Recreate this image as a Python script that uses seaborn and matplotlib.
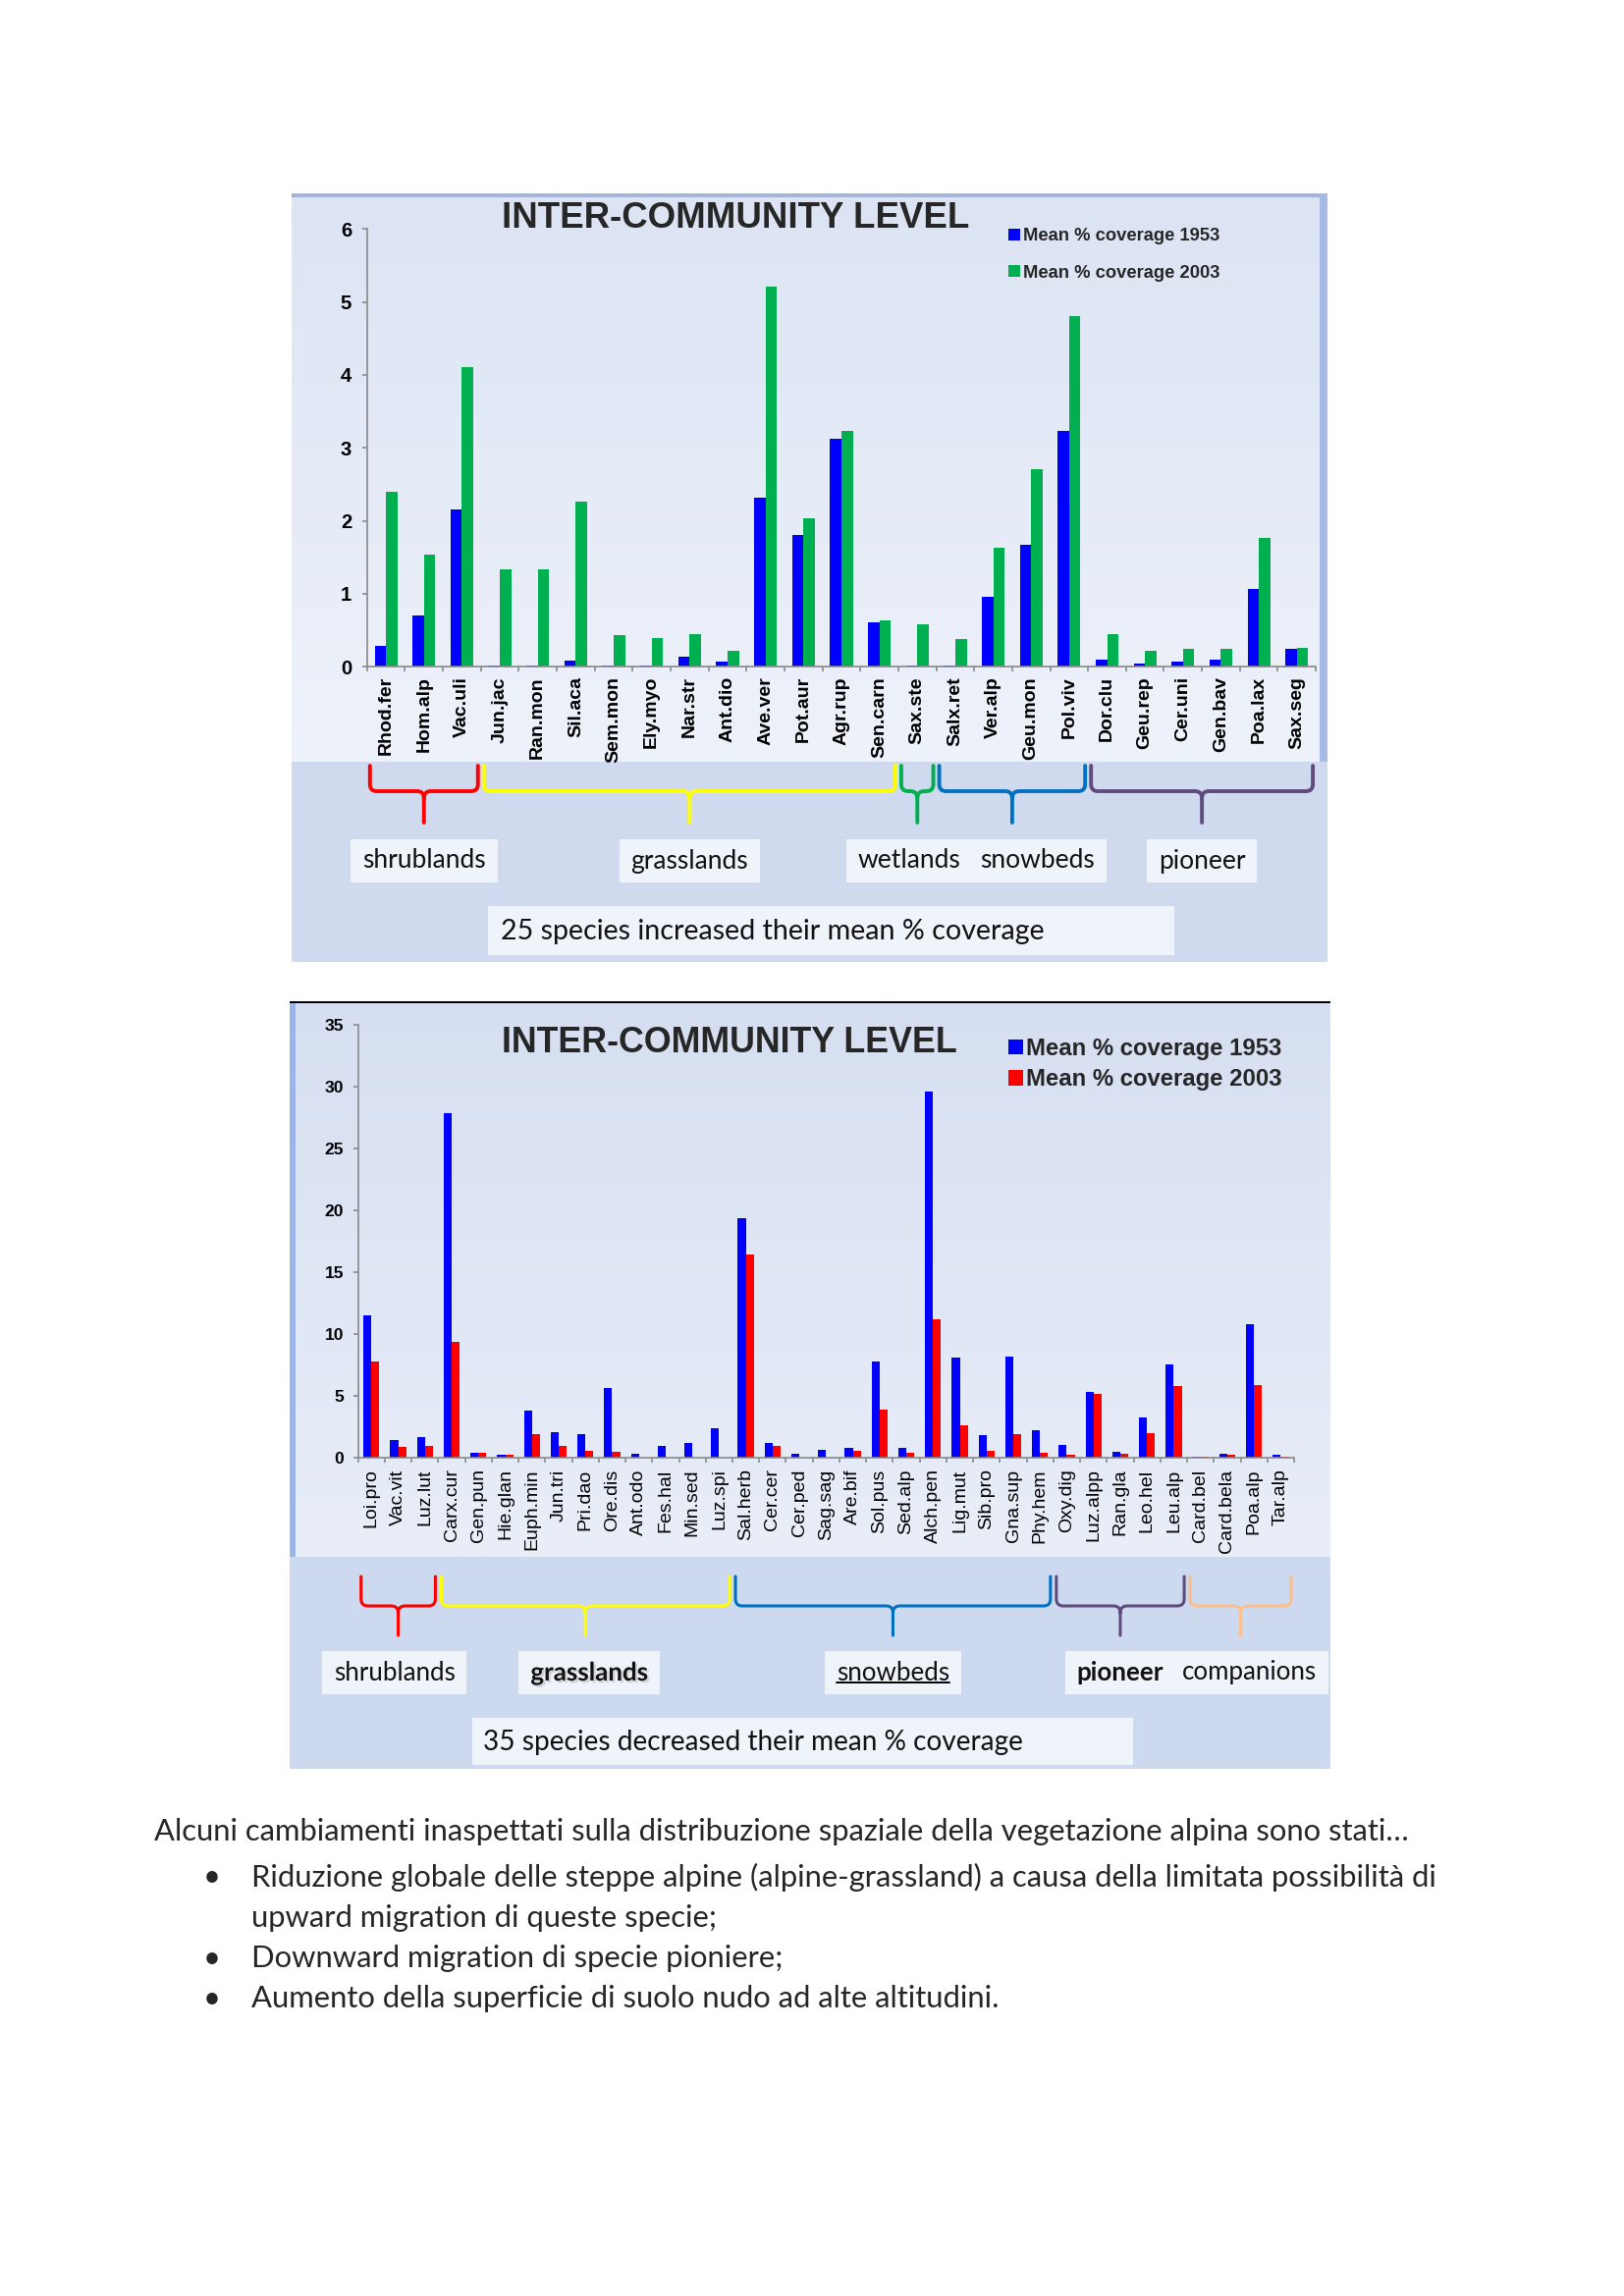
import numpy as np
import pandas as pd
import matplotlib
matplotlib.use("Agg")
import matplotlib.pyplot as plt
import matplotlib.colors as mcolors
import matplotlib.patheffects as pe
from matplotlib.patches import Rectangle, PathPatch
from matplotlib.path import Path
from matplotlib.lines import Line2D
from matplotlib.font_manager import FontProperties
import seaborn as sns

# ---------------- data: chart 1 (species that increased) ----------------
species_up = ["Rhod.fer", "Hom.alp", "Vac.uli", "Jun.jac", "Ran.mon", "Sil.aca",
              "Sem.mon", "Ely.myo", "Nar.str", "Ant.dio", "Ave.ver", "Pot.aur",
              "Agr.rup", "Sen.carn", "Sax.ste", "Salx.ret", "Ver.alp", "Geu.mon",
              "Pol.viv", "Dor.clu", "Geu.rep", "Cer.uni", "Gen.bav", "Poa.lax", "Sax.seg"]
cov1953_up = [0.28, 0.70, 2.16, 0.02, 0.02, 0.08, 0.02, 0.02, 0.13, 0.07, 2.31, 1.80,
              3.12, 0.61, 0.02, 0.02, 0.96, 1.67, 3.23, 0.09, 0.04, 0.07, 0.10, 1.07, 0.24]
cov2003_up = [2.40, 1.54, 4.10, 1.34, 1.34, 2.26, 0.43, 0.39, 0.45, 0.21, 5.21, 2.03,
              3.23, 0.63, 0.58, 0.38, 1.63, 2.70, 4.81, 0.45, 0.21, 0.24, 0.24, 1.77, 0.26]
groups_up = [("shrublands", "Rhod.fer", "Vac.uli", "#ff0000"),
             ("grasslands", "Jun.jac", "Sen.carn", "#ffff00"),
             ("wetlands", "Sax.ste", "Sax.ste", "#00b050"),
             ("snowbeds", "Salx.ret", "Pol.viv", "#0070c0"),
             ("pioneer", "Dor.clu", "Sax.seg", "#5f4b7d")]
note_up = "25 species increased their mean % coverage"

# ---------------- data: chart 2 (species that decreased) ----------------
species_down = ["Loi.pro", "Vac.vit", "Luz.lut", "Carx.cur", "Gen.pun", "Hie.glan",
                "Euph.min", "Jun.tri", "Pri.dao", "Ore.dis", "Ant.odo", "Fes.hal",
                "Min.sed", "Luz.spi", "Sal.herb", "Cer.cer", "Cer.ped", "Sag.sag",
                "Are.bif", "Sol.pus", "Sed.alp", "Alch.pen", "Lig.mut", "Sib.pro",
                "Gna.sup", "Phy.hem", "Oxy.dig", "Luz.alpp", "Ran.gla", "Leo.hel",
                "Leu.alp", "Card.bel", "Card.bela", "Poa.alp", "Tar.alp"]
cov1953_down = [11.48, 1.46, 1.70, 27.84, 0.36, 0.27, 3.79, 2.06, 1.94, 5.65, 0.30, 0.97,
                1.21, 2.40, 19.34, 1.21, 0.30, 0.61, 0.82, 7.80, 0.76, 29.60, 8.11, 1.82,
                8.20, 2.19, 1.06, 5.31, 0.46, 3.25, 7.56, 0.05, 0.33, 10.75, 0.24]
cov2003_down = [7.80, 0.91, 0.97, 9.38, 0.36, 0.21, 1.94, 0.97, 0.55, 0.46, 0.03, 0.03,
                0.03, 0.03, 16.45, 0.97, 0.03, 0.03, 0.58, 3.86, 0.39, 11.17, 2.64, 0.58,
                1.91, 0.39, 0.21, 5.19, 0.33, 1.97, 5.77, 0.05, 0.24, 5.86, 0.05]
groups_down = [("shrublands", "Loi.pro", "Luz.lut", "#ff0000"),
               ("grasslands", "Carx.cur", "Luz.spi", "#ffff00"),
               ("snowbeds", "Sal.herb", "Phy.hem", "#0070c0"),
               ("pioneer", "Oxy.dig", "Leu.alp", "#5f4b7d"),
               ("companions", "Card.bel", "Tar.alp", "#fac08f")]
note_down = "35 species decreased their mean % coverage"

year_labels = ["Mean % coverage 1953", "Mean % coverage 2003"]
title_text = "INTER-COMMUNITY LEVEL"

para_intro = "Alcuni cambiamenti inaspettati sulla distribuzione spaziale della vegetazione alpina sono stati…"
para_lines = [("•", "Riduzione globale delle steppe alpine (alpine-grassland) a causa della limitata possibilità di"),
              ("", "upward migration di queste specie;"),
              ("•", "Downward migration di specie pioniere;"),
              ("•", "Aumento della superficie di suolo nudo ad alte altitudini.")]

# ---------------- setup ----------------
sns.set_theme(style="white")
plt.rcParams["font.family"] = ["Liberation Sans", "DejaVu Sans"]

W, H = 1654, 2339
fig = plt.figure(figsize=(W / 200, H / 200), dpi=200, facecolor="white")
renderer = fig.canvas.get_renderer()


def fx(px):
    return px / W


def fy(py):
    return 1 - py / H


def rect(x0, y0, x1, y1, color, z=-10):
    fig.add_artist(Rectangle((fx(x0), fy(y1)), (x1 - x0) / W, (y1 - y0) / H,
                             transform=fig.transFigure, fc=color, ec="none", zorder=z))


def gradient(x0, y0, x1, y1, ctop, cbot):
    a = fig.add_axes([fx(x0), fy(y1), (x1 - x0) / W, (y1 - y0) / H], zorder=-5)
    t = np.linspace(0, 1, 256)[:, None, None]
    img = np.array(mcolors.to_rgb(ctop))[None, None, :] * (1 - t) + \
        np.array(mcolors.to_rgb(cbot))[None, None, :] * t
    a.imshow(img, aspect="auto", extent=[0, 1, 0, 1], origin="upper")
    a.axis("off")


def bracket(xl, xr, ytop, yh, ytip, color, lw, r=7):
    xc = (xl + xr) / 2
    pts = [(xl, ytop), (xl, yh - r), (xl, yh), (xl + r, yh), (xc - r, yh), (xc, yh),
           (xc, yh + r), (xc, ytip),
           (xc, yh + r), (xc, yh), (xc + r, yh), (xr - r, yh), (xr, yh), (xr, yh - r), (xr, ytop)]
    codes = [Path.MOVETO, Path.LINETO, Path.CURVE3, Path.CURVE3, Path.LINETO, Path.CURVE3,
             Path.CURVE3, Path.LINETO,
             Path.MOVETO, Path.CURVE3, Path.CURVE3, Path.LINETO, Path.CURVE3, Path.CURVE3, Path.LINETO]
    verts = [(fx(x), fy(y)) for x, y in pts]
    fig.add_artist(PathPatch(Path(verts, codes), transform=fig.transFigure, fill=False,
                             ec=color, lw=lw, capstyle="round", joinstyle="round", zorder=2))


def fit(t, target_w):
    bb = t.get_window_extent(renderer)
    t.set_fontsize(t.get_fontsize() * target_w / bb.width)
    return t.get_fontsize()


def draw_chart(species, v53, v03, colors, groups, note, geo):
    n = len(species)
    # backgrounds
    px0, py0, px1, py1 = geo["panel"]
    rect(px0, py0, px1, py1, geo["outer"])
    ix0, iy0, ix1, iy1 = geo["inner"]
    gradient(ix0, iy0, ix1, iy1, geo["ctop"], geo["cbot"])
    for (a, b, c, d, col) in geo["strips"]:
        rect(a, b, c, d, col, z=-4)

    # bar axes
    axl, axr, yzero, ytop = geo["axes"]
    ax = fig.add_axes([fx(axl), fy(yzero), (axr - axl) / W, (yzero - ytop) / H],
                      zorder=0, facecolor="none")
    df = pd.DataFrame({"species": species * 2,
                       "year": [year_labels[0]] * n + [year_labels[1]] * n,
                       "cover": list(v53) + list(v03)})
    sns.barplot(data=df, x="species", y="cover", hue="year", hue_order=year_labels,
                order=species, palette=colors, width=0.6, saturation=1, errorbar=None,
                linewidth=0, ax=ax)
    ax.set_xlim(-0.5, n - 0.5)
    ax.set_ylim(0, geo["ymax"])
    ax.set_xlabel("")
    ax.set_ylabel("")
    for s in ["top", "right"]:
        ax.spines[s].set_visible(False)
    for s in ["left", "bottom"]:
        ax.spines[s].set_color("#8a8a8a")
        ax.spines[s].set_linewidth(0.6)
    ax.set_xticks(range(n))
    ax.set_xticklabels(species, rotation=90, fontsize=geo["xfs"], fontweight=geo["xfw"])
    ax.set_xticks(np.arange(-0.5, n, 1.0), minor=True)
    ax.tick_params(axis="x", which="major", length=0, pad=geo["xpad"], colors="black")
    ax.tick_params(axis="x", which="minor", length=1.8, width=0.6, color="#8a8a8a",
                   direction="out", bottom=True)
    yt = np.arange(0, geo["ymax"] + 0.1, geo["ystep"])
    ax.set_yticks(yt)
    ax.set_yticklabels([f"{int(v)}" for v in yt], fontsize=geo["yfs"], fontweight="bold")
    ax.tick_params(axis="y", length=1.8, width=0.6, color="#8a8a8a", direction="out",
                   pad=geo["ypad"], labelcolor="black", left=True)
    ax.grid(False)

    # legend
    handles, labels = ax.get_legend_handles_labels()
    ax.legend(handles, labels, loc="center left", bbox_to_anchor=(fx(geo["leg"][0]), fy(geo["leg"][1])),
              bbox_transform=fig.transFigure, frameon=False,
              prop=FontProperties(family="Liberation Sans", weight="bold", size=geo["lfs"]),
              handlelength=geo["lh"], handleheight=geo["lh"], handletextpad=geo["ltp"],
              labelspacing=geo["lsp"], borderpad=0, borderaxespad=0)

    # title
    fig.text(fx(geo["title"][0]), fy(geo["title"][1]), title_text, ha="center", va="baseline",
             fontsize=geo["tfs"], fontweight="bold", family="Liberation Sans", zorder=3)

    # brackets and group labels
    ytop_b, yh_b, ytip_b = geo["bracket_y"]
    idx = {s: i for i, s in enumerate(species)}
    label_texts = []
    for (name, first, last, col) in groups:
        xl = ax.transData.transform((idx[first] - 0.5, 0))[0] + 3
        xr = ax.transData.transform((idx[last] + 0.5, 0))[0] - 3
        bracket(xl, xr, ytop_b, yh_b, ytip_b, col, geo["blw"])
        xc = (xl + xr) / 2 + geo["label_dx"].get(name, 0)
        style = geo["label_style"].get(name, {})
        t = fig.text(fx(xc), fy(geo["label_y"]), name, ha="center", va="center",
                     family="Lato", fontsize=10, zorder=4, color="#111111", **style)
        label_texts.append((name, t))
    fs = fit(label_texts[0][1], geo["first_label_w"])
    for name, t in label_texts:
        t.set_fontsize(fs)
    by0, by1 = geo["label_box_y"]
    for name, t in label_texts:
        bb = t.get_window_extent(renderer)
        cx = (bb.x0 + bb.x1) / 2
        w = bb.width + 24
        rect(cx - w / 2, by0, cx + w / 2, by1, "#eff3fa", z=1)
        if name in geo["underline"]:
            yline = H - bb.y0 - 3
            fig.add_artist(Line2D([fx(bb.x0), fx(bb.x1)], [fy(yline), fy(yline)],
                                  transform=fig.transFigure, color="black", lw=0.7, zorder=4))

    # note box
    nx0, ny0, nx1, ny1 = geo["note_box"]
    rect(nx0, ny0, nx1, ny1, "#eff3fa", z=1)
    tn = fig.text(fx(geo["note_x"]), fy((ny0 + ny1) / 2 + 1), note, ha="left", va="center",
                  family="Lato", fontsize=10, zorder=4, color="#111111")
    fit(tn, geo["note_w"])
    return ax


geo1 = dict(panel=(297, 197, 1352, 980), outer="#cfdaee",
            inner=(297, 200, 1344, 776), ctop="#dce4f4", cbot="#eef2fa",
            strips=[(297, 197, 1352, 200.5, "#a3b3d9"), (1344, 197, 1352, 776, "#a6bce6")],
            axes=(373.8, 1340.1, 679.1, 233.3), ymax=6, ystep=1,
            xfs=7.0, xfw="bold", xpad=3.6, yfs=7.3, ypad=3.8,
            leg=(1027, 259.5), lfs=6.6, lh=0.65, ltp=0.15, lsp=1.1,
            title=(749, 231.5), tfs=13.2,
            bracket_y=(780, 806, 838), blw=1.4,
            label_dx={"wetlands": -8, "snowbeds": 26}, label_style={}, underline=[],
            label_y=877, label_box_y=(855, 899), first_label_w=126,
            note_box=(496.5, 923, 1196, 973), note_x=510, note_w=556)

geo2 = dict(panel=(295, 1021, 1355, 1802), outer="#cdd9ee",
            inner=(301, 1022, 1355, 1586), ctop="#d6dff1", cbot="#e9eef8",
            strips=[(295, 1022, 301, 1586, "#9db4e6"), (295, 1020.2, 1355, 1022, "#000000")],
            axes=(364.7, 1318.0, 1485.0, 1043.7), ymax=35, ystep=5,
            xfs=7.0, xfw="normal", xpad=4.1, yfs=6.3, ypad=3.5,
            leg=(1027, 1084), lfs=8.6, lh=0.62, ltp=0.15, lsp=0.36,
            title=(742.5, 1071.5), tfs=12.9,
            bracket_y=(1606, 1636, 1666), blw=1.1,
            label_dx={"companions": 9, "grasslands": 4, "shrublands": -4},
            label_style={"grasslands": dict(fontweight="bold",
                                            path_effects=[pe.withSimplePatchShadow(offset=(0.8, -0.8),
                                                                                   shadow_rgbFace="#9a9a9a",
                                                                                   alpha=0.35)]),
                         "pioneer": dict(fontweight="bold")},
            underline=["snowbeds"],
            label_y=1704, label_box_y=(1682, 1726), first_label_w=124,
            note_box=(481, 1750, 1154, 1798), note_x=492, note_w=551)

draw_chart(species_up, cov1953_up, cov2003_up, ["#0000ff", "#00b050"], groups_up, note_up, geo1)
draw_chart(species_down, cov1953_down, cov2003_down, ["#0000ff", "#ff0000"], groups_down, note_down, geo2)

# ---------------- paragraph text ----------------
t0 = fig.text(fx(157), fy(1866), para_intro, ha="left", va="center", family="Lato", fontsize=10)
pfs = fit(t0, 1283)
ys = [1912, 1954, 1995, 2036]
for (b, line), y in zip(para_lines, ys):
    if b:
        fig.text(fx(216), fy(y), b, ha="center", va="center", family="Lato", fontsize=pfs)
    fig.text(fx(256), fy(y), line, ha="left", va="center", family="Lato", fontsize=pfs)

fig.savefig("out.png", dpi=200, facecolor="white")
